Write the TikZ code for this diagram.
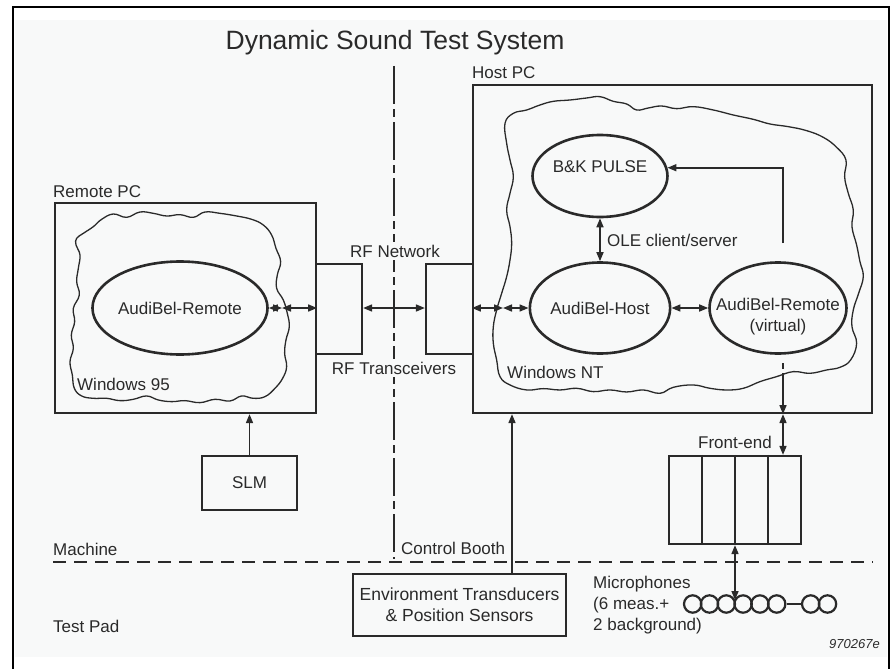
\documentclass[tikz,border=0pt]{standalone}
\usepackage{fontspec}
\setmainfont{Liberation Sans}
\usetikzlibrary{shapes.geometric,arrows.meta}
\definecolor{ink}{HTML}{2A2A2A}
\definecolor{paper}{HTML}{F8F9F9}
\begin{document}
\begin{tikzpicture}[x=1pt,y=-1pt,
  every node/.style={font=\fontsize{17}{21}\selectfont, text=ink},
  box/.style={draw=ink, line width=2.2pt, rectangle, inner sep=0pt},
  oval/.style={draw=ink, line width=2.6pt, ellipse, inner sep=0pt},
  lbl/.style={inner sep=0pt, anchor=west},
  cloudline/.style={draw=ink, line width=1.3pt},
  conn/.style={draw=ink, line width=1.6pt},
  onearrow/.style={-{Triangle[length=9pt,width=7pt]}},
  twoarrow/.style={{Triangle[length=9pt,width=7pt]}-{Triangle[length=9pt,width=7pt]}},
  mic/.style={circle, draw=ink, line width=2.2pt, minimum size=17.4pt, inner sep=0pt},
  gaplbl/.style={fill=paper, inner sep=3pt},
]
\useasboundingbox (0,0) rectangle (892,669);
\fill[paper] (15,20) rectangle (887,657);
\draw[black, line width=2.5pt] (13,669) -- (13,7) -- (889,7) -- (889,669);

% clouds
\begin{scope}[xshift=30pt,yshift=-180pt,x=0.3333pt,y=-0.3333pt]
\draw[cloudline] plot[smooth cycle, tension=0.7] coordinates {
(140,175) (160,160) (190,140) (215,118) (250,102) (290,112) (330,96) (370,100)
(410,108) (450,104) (490,112) (525,96) (570,100) (620,108) (665,118) (700,135)
(725,165) (738,205) (752,245) (742,285) (740,325) (760,360) (772,400) (778,440)
(768,480) (764,520) (770,560) (758,595) (735,625) (705,650) (670,655) (635,648)
(600,663) (555,658) (510,668) (465,662) (425,665) (385,660) (350,648) (310,658)
(270,662) (230,655) (190,655) (155,648) (133,625) (127,585) (120,545) (130,505)
(124,465) (134,425) (130,385) (148,345) (140,305) (145,265) (150,225) (138,195)};
\end{scope}
\begin{scope}[xshift=460pt,yshift=-60pt,x=0.3333pt,y=-0.3333pt]
\draw[cloudline] plot[smooth cycle, tension=0.7] coordinates {
(135,190) (160,160) (200,150) (240,135) (280,124) (330,120) (380,114) (420,110)
(460,124) (500,132) (530,150) (565,144) (605,138) (650,146) (700,140) (760,150)
(820,165) (880,178) (930,192) (985,200) (1040,212) (1090,232) (1130,262) (1158,300)
(1154,350) (1165,400) (1180,450) (1176,500) (1190,555) (1200,605) (1210,650) (1196,700)
(1180,750) (1176,800) (1190,850) (1172,900) (1140,922) (1100,930) (1050,940) (1000,935)
(950,950) (900,965) (850,985) (800,990) (750,985) (700,975) (640,982) (600,1000)
(550,990) (500,996) (450,990) (400,995) (350,985) (300,990) (250,986) (200,990)
(150,975) (120,950) (110,900) (100,850) (100,800) (110,750) (125,700) (140,650)
(150,600) (155,550) (150,500) (140,450) (150,400) (160,350) (150,300) (140,250)};
\end{scope}

% region separators
\coordinate (dtop) at (394,66);
\coordinate (dbot) at (394,559);
\coordinate (hl) at (53,562);
\coordinate (hr) at (873,562);
\draw[ink, line width=1.6pt, dash pattern=on 38pt off 5pt on 8pt off 5pt] (dtop) -- (dbot);
\draw[ink, line width=1.6pt, dash pattern=on 13pt off 8pt] (hl) -- (hr);

% title
\node (title) at (395,43) {\fontsize{26.5}{30}\selectfont Dynamic Sound Test System};

% boxes
\node[box, minimum width=261pt, minimum height=210pt] (remote) at (185.5,308) {};
\node[lbl] (remotelbl) at (53,192) {Remote PC};
\node[box, minimum width=46pt, minimum height=90pt] (rf1) at (339,309) {};
\node[box, minimum width=47pt, minimum height=90pt] (rf2) at (449.5,309) {};
\node[box, minimum width=399pt, minimum height=328pt] (host) at (672.5,249) {};
\node[lbl] (hostlbl) at (472,73) {Host PC};
\node[box, minimum width=95pt, minimum height=54pt] (slm) at (249.5,483) {SLM};
\node[box, minimum width=213pt, minimum height=62pt, align=center,
      font=\fontsize{17.5}{21}\selectfont] (env) at (459.5,605)
      {Environment Transducers\\\& Position Sensors};
\node[box, minimum width=132pt, minimum height=88pt] (fe) at (735,500) {};
\draw[ink, line width=2.2pt] ([xshift=-33pt]fe.north) -- ([xshift=-33pt]fe.south);
\draw[ink, line width=2.2pt] (fe.north) -- (fe.south);
\draw[ink, line width=2.2pt] ([xshift=33pt]fe.north) -- ([xshift=33pt]fe.south);

% ellipses
\node[oval, minimum width=136pt, minimum height=93pt] (er) at (180,308) {AudiBel-Remote};
\node[oval, minimum width=135pt, minimum height=82pt] (bk) at (600,176) {};
\node (bkt) at ([yshift=9pt]bk.center) {B\&K PULSE};
\node[oval, minimum width=135pt, minimum height=91pt] (eh) at (600,308) {AudiBel-Host};
\node[oval, minimum width=137pt, minimum height=91pt] (ev) at (778,308) {};
\node[align=center, inner sep=0pt] (evt) at ([yshift=-9pt]ev.center) {AudiBel-Remote\\(virtual)};

% microphones
\node[mic] (m1) at (692.7,604) {};
\node[mic] (m2) at (709.5,604) {};
\node[mic] (m3) at (726.3,604) {};
\node[mic] (m4) at (743.1,604) {};
\node[mic] (m5) at (759.9,604) {};
\node[mic] (m6) at (776.7,604) {};
\node[mic] (b1) at (810.7,604) {};
\node[mic] (b2) at (827.5,604) {};
\draw[ink, line width=2.2pt] (m6.east) -- (b1.west);

% labels
\node[gaplbl] (rfnet) at (395,251) {RF Network};
\node[gaplbl] (rftr) at (394,368) {RF Transceivers};
\node[lbl] (ole) at (607,240) {OLE client/server};
\node[lbl] (w95) at (77,384) {Windows 95};
\node[lbl] (wnt) at (507,372) {Windows NT};
\node (fel) at (735,442) {Front-end};
\node[lbl] (mach) at (53,549) {Machine};
\node[lbl] (tp) at (53,626) {Test Pad};
\node[lbl] (cb) at (401,548) {Control Booth};
\node[lbl, align=left] (mics) at (593,605) {Microphones\\(6 meas.+\\2 background)};
\node[anchor=east, inner sep=0pt, font=\fontsize{13}{15}\selectfont\itshape] (code) at (880,644) {970267e};

% connectors
\coordinate (c95) at (282,308);
\draw[conn, twoarrow] (er.east) -- (c95);
\draw[conn, twoarrow] (c95) -- (remote.east |- c95);
\draw[conn, twoarrow] (rf1.east |- c95) -- (rf2.west |- c95);
\coordinate (cnt) at (503,308);
\draw[conn, twoarrow] (host.west |- cnt) -- (cnt);
\draw[conn, twoarrow] (cnt) -- (eh.west);
\draw[conn, twoarrow] (eh.east) -- (ev.west);
\draw[conn, twoarrow] (bk.south) -- (eh.north);
\coordinate (vtop) at (783,243);
\draw[conn, onearrow] (vtop) |- (bk.7);
\coordinate (evb) at (783,358);
\draw[conn, onearrow, dash pattern=on 0pt off 5pt on 6pt off 4pt on 80pt] (evb) -- (evb |- host.south);
\draw[conn, twoarrow] (evb |- host.south) -- (evb |- fe.north);
\coordinate (micj) at (735,600);
\draw[conn, twoarrow] (fe.south) -- (micj);
\draw[conn, onearrow] (slm.north) -- (slm.north |- remote.south);
\coordinate (envx) at (512,574);
\draw[conn, onearrow] (envx) -- (envx |- host.south);
\end{tikzpicture}
\end{document}
